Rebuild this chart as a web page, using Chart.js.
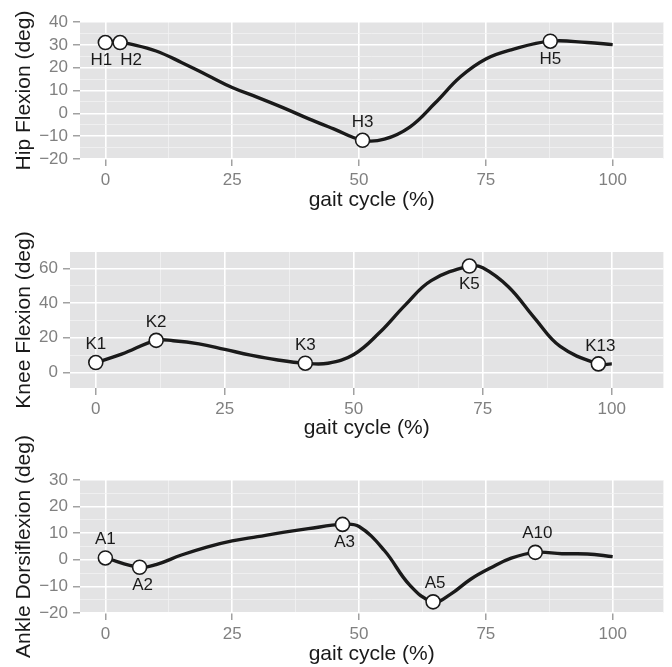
<!DOCTYPE html>
<html>
<head>
<meta charset="utf-8">
<script src="https://cdn.jsdelivr.net/npm/chart.js@4.4.0/dist/chart.umd.min.js"></script>
<style>
  body { margin: 0; background: #fff; }
  #wrap { position: relative; width: 672px; height: 667px; }
  .panel { position: absolute; left: 0; width: 672px; }
</style>
</head>
<body>
<div id="wrap">
  <div class="panel" style="top:0px;height:213px"><canvas id="hipChart"></canvas></div>
  <div class="panel" style="top:230px;height:211px"><canvas id="kneeChart"></canvas></div>
  <div class="panel" style="top:428px;height:239px"><canvas id="ankleChart"></canvas></div>
</div>
<script>
// gait cycle ticks (shared by all three panels)
var xMajorTicks = [0, 25, 50, 75, 100];
var xMinorTicks = [12.5, 37.5, 62.5, 87.5];

// hip flexion curve
var hipX = [0, 2.9, 5, 10, 15, 20, 25, 30, 35, 40, 45, 50.7, 55, 60, 65, 70, 75, 80, 87.7, 95, 100];
var hipY = [31, 31, 30.3, 27.3, 22.3, 16.8, 11.3, 7, 2.5, -2.3, -6.8, -11.8, -11.3, -6, 4.5, 16, 23.8, 27.8, 31.6, 31, 30.1];
var hipMarkX = [0, 2.9, 50.7, 87.7];
var hipMarkY = [31, 31, -11.8, 31.6];
var hipMarkLabels = ["H1", "H2", "H3", "H5"];
var hipTicks = [-20, -10, 0, 10, 20, 30, 40];
var hipMinor = [-15, -5, 5, 15, 25, 35];

// knee flexion curve
var kneeX = [0, 5, 11.7, 15, 20, 25, 30, 35, 40.6, 45, 50, 55, 60, 65, 72.4, 75, 80, 85, 90, 97.4, 100];
var kneeY = [5.7, 10.5, 18.5, 18.3, 16.5, 13.3, 10, 7.3, 5.3, 5.3, 10.3, 23, 39, 53, 61.4, 60.4, 49.3, 31.5, 15, 4.9, 4.9];
var kneeMarkX = [0, 11.7, 40.6, 72.4, 97.4];
var kneeMarkY = [5.7, 18.5, 5.3, 61.4, 4.9];
var kneeMarkLabels = ["K1", "K2", "K3", "K5", "K13"];
var kneeTicks = [0, 20, 40, 60];
var kneeMinor = [10, 30, 50];

// ankle dorsiflexion curve
var ankleX = [0, 6.75, 10, 15, 20, 25, 30, 35, 40, 46.75, 50, 55, 60, 64.6, 68, 72, 76, 80, 84.75, 90, 95, 100];
var ankleY = [0.7, -2.8, -1.8, 1.8, 4.8, 7.1, 8.7, 10.3, 11.7, 13.3, 12.5, 3.5, -9.5, -15.8, -13, -7.3, -3, 0.6, 2.8, 2.3, 2.2, 1.2];
var ankleMarkX = [0, 6.75, 46.75, 64.6, 84.75];
var ankleMarkY = [0.7, -2.8, 13.3, -15.8, 2.8];
var ankleMarkLabels = ["A1", "A2", "A3", "A5", "A10"];
var ankleTicks = [-20, -10, 0, 10, 20, 30];
var ankleMinor = [-15, -5, 5, 15, 25];

var FONT = "'Liberation Sans', Arial, sans-serif";

function toPoints(xs, ys) {
    return xs.map(function(x, i) { return { x: x, y: ys[i] }; });
}

function fmt(v) {
    return v < 0 ? "\u2212" + Math.abs(v) : String(v);
}

// grey panel background like ggplot
var panelBg = {
    id: "panelBg",
    beforeDraw: function(chart) {
        var a = chart.chartArea, c = chart.ctx;
        c.save();
        c.fillStyle = "#e3e3e4";
        c.fillRect(a.left, a.top, a.right - a.left, a.bottom - a.top);
        c.restore();
    }
};

// text labels next to the marker points
var markLabels = {
    id: "markLabels",
    afterDatasetsDraw: function(chart, args, opts) {
        var meta = chart.getDatasetMeta(1), c = chart.ctx;
        c.save();
        c.font = "17px " + FONT;
        c.fillStyle = "#1a1a1a";
        c.textAlign = "center";
        c.textBaseline = "middle";
        meta.data.forEach(function(el, i) {
            var off = opts.offsets[i];
            c.fillText(opts.labels[i], el.x + off[0], el.y + off[1]);
        });
        c.restore();
    }
};

function makeChart(id, p) {
    var isMajorY = function(v) { return p.yTicks.indexOf(v) >= 0; };
    var isMajorX = function(v) { return xMajorTicks.indexOf(v) >= 0; };
    return new Chart(document.getElementById(id), {
        type: "line",
        data: {
            datasets: [{
                data: toPoints(p.xs, p.ys),
                borderColor: "#1a1a1a",
                borderWidth: 3.4,
                pointRadius: 0,
                tension: 0.4,
                fill: false,
                order: 1
            }, {
                type: "scatter",
                data: toPoints(p.mx, p.my),
                pointRadius: 7,
                pointBorderWidth: 1.6,
                pointBackgroundColor: "#ffffff",
                pointBorderColor: "#1a1a1a",
                order: 0
            }]
        },
        options: {
            responsive: true,
            maintainAspectRatio: false,
            animation: false,
            layout: { padding: { top: p.padTop, right: 0, bottom: 0, left: 0 } },
            plugins: {
                legend: { display: false },
                tooltip: { enabled: false },
                markLabels: { labels: p.labels, offsets: p.offsets }
            },
            scales: {
                x: {
                    type: "linear",
                    min: -5,
                    max: 110,
                    afterBuildTicks: function(s) {
                        s.ticks = xMajorTicks.concat(xMinorTicks).sort(function(a, b) { return a - b; })
                            .map(function(v) { return { value: v }; });
                    },
                    afterFit: function(s) { s.height = p.axisH; },
                    border: { display: false },
                    grid: {
                        color: function(c) { return isMajorX(c.tick.value) ? "#ffffff" : "#f2f2f2"; },
                        lineWidth: function(c) { return isMajorX(c.tick.value) ? 1.6 : 0.8; },
                        tickColor: function(c) { return isMajorX(c.tick.value) ? "#8a8a8a" : "rgba(0,0,0,0)"; },
                        tickLength: 7,
                        tickWidth: 1.2
                    },
                    ticks: {
                        autoSkip: false,
                        maxRotation: 0,
                        padding: 4,
                        color: "#808080",
                        font: { family: FONT, size: 17 },
                        callback: function(v) { return isMajorX(v) ? fmt(v) : ""; }
                    },
                    title: {
                        display: true,
                        text: "gait cycle (%)",
                        color: "#1a1a1a",
                        font: { family: FONT, size: 21 },
                        padding: { top: 0, bottom: 0 }
                    }
                },
                y: {
                    type: "linear",
                    min: p.yMin,
                    max: p.yMax,
                    afterBuildTicks: function(s) {
                        s.ticks = p.yTicks.concat(p.yMinor).sort(function(a, b) { return a - b; })
                            .map(function(v) { return { value: v }; });
                    },
                    afterFit: function(s) { s.width = p.leftW; },
                    border: { display: false },
                    grid: {
                        color: function(c) { return isMajorY(c.tick.value) ? "#ffffff" : "#f2f2f2"; },
                        lineWidth: function(c) { return isMajorY(c.tick.value) ? 1.6 : 0.8; },
                        tickColor: function(c) { return isMajorY(c.tick.value) ? "#8a8a8a" : "rgba(0,0,0,0)"; },
                        tickLength: 7,
                        tickWidth: 1.2
                    },
                    ticks: {
                        autoSkip: false,
                        padding: 5,
                        color: "#808080",
                        font: { family: FONT, size: 17 },
                        callback: function(v) { return isMajorY(v) ? fmt(v) : ""; }
                    },
                    title: {
                        display: true,
                        text: p.yTitle,
                        color: "#1a1a1a",
                        font: { family: FONT, size: 21 },
                        padding: { top: 12, bottom: 0 }
                    }
                }
            }
        },
        plugins: [panelBg, markLabels]
    });
}

makeChart("hipChart", {
    xs: hipX, ys: hipY, mx: hipMarkX, my: hipMarkY, labels: hipMarkLabels,
    offsets: [[-4, 18], [11, 18], [0, -18], [0, 18]],
    yMin: -20, yMax: 40, yTicks: hipTicks, yMinor: hipMinor,
    yTitle: "Hip Flexion (deg)", leftW: 80, axisH: 54, padTop: 22
});

makeChart("kneeChart", {
    xs: kneeX, ys: kneeY, mx: kneeMarkX, my: kneeMarkY, labels: kneeMarkLabels,
    offsets: [[0, -18], [0, -18], [0, -18], [0, 18], [2, -18]],
    yMin: -9, yMax: 69.5, yTicks: kneeTicks, yMinor: kneeMinor,
    yTitle: "Knee Flexion (deg)", leftW: 70, axisH: 53, padTop: 22
});

makeChart("ankleChart", {
    xs: ankleX, ys: ankleY, mx: ankleMarkX, my: ankleMarkY, labels: ankleMarkLabels,
    offsets: [[0, -19], [3, 18], [2, 18], [2, -19], [2, -19]],
    yMin: -20, yMax: 30, yTicks: ankleTicks, yMinor: ankleMinor,
    yTitle: "Ankle Dorsiflexion (deg)", leftW: 80, axisH: 54, padTop: 52
});
</script>
</body>
</html>
